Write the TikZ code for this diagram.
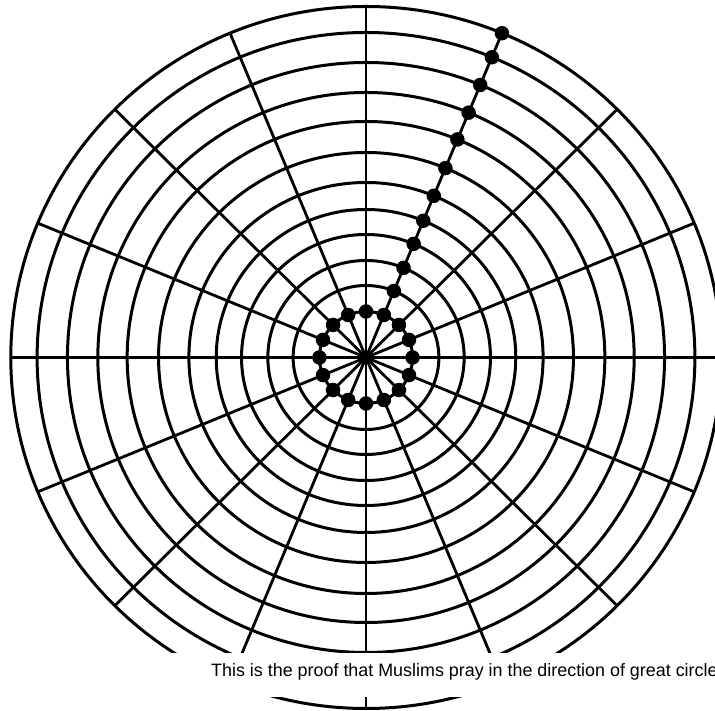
\documentclass[tikz,border=0pt]{standalone}
\usepackage{fontspec}
\newfontfamily\capfont{Liberation Sans}

\begin{document}
\begin{tikzpicture}[
    x=1pt, y=1pt,
    ring/.style={line width=3pt},
    spoke/.style={line width=2.8pt},
    bead/.style={circle, fill, inner sep=0pt, minimum size=14.5pt},
    band/.style={fill=white},
    caption/.style={anchor=base west, inner sep=0pt, font=\capfont\fontsize{17.9}{20}\selectfont}
]
\clip (0,0) rectangle (715,711);
\fill[white] (0,0) rectangle (715,711);
\begin{scope}[shift={(366,353.5)}, xscale=1.012]
\coordinate (pole) at (0,0);
\foreach \r in {46,72,97,123,148,175,205,236,265,295,325,351}
    \draw[ring] (pole) circle[radius=\r];
\foreach \a in {0,22.5,...,337.5}
    \draw[spoke] (pole) -- (\a:351);
\foreach \a [count=\k] in {0,22.5,...,337.5}
    \node[bead] (b\k) at (\a:46) {};
\foreach \r [count=\k] in {72,97,123,148,175,205,236,265,295,325,351}
    \node[bead] (c\k) at (67.5:\r) {};
\end{scope}
\fill[band] (0,14) rectangle (715,58);
\node[caption] (note) at (211,34) {This is the proof that Muslims pray in the direction of great circle};
\end{tikzpicture}
\end{document}
